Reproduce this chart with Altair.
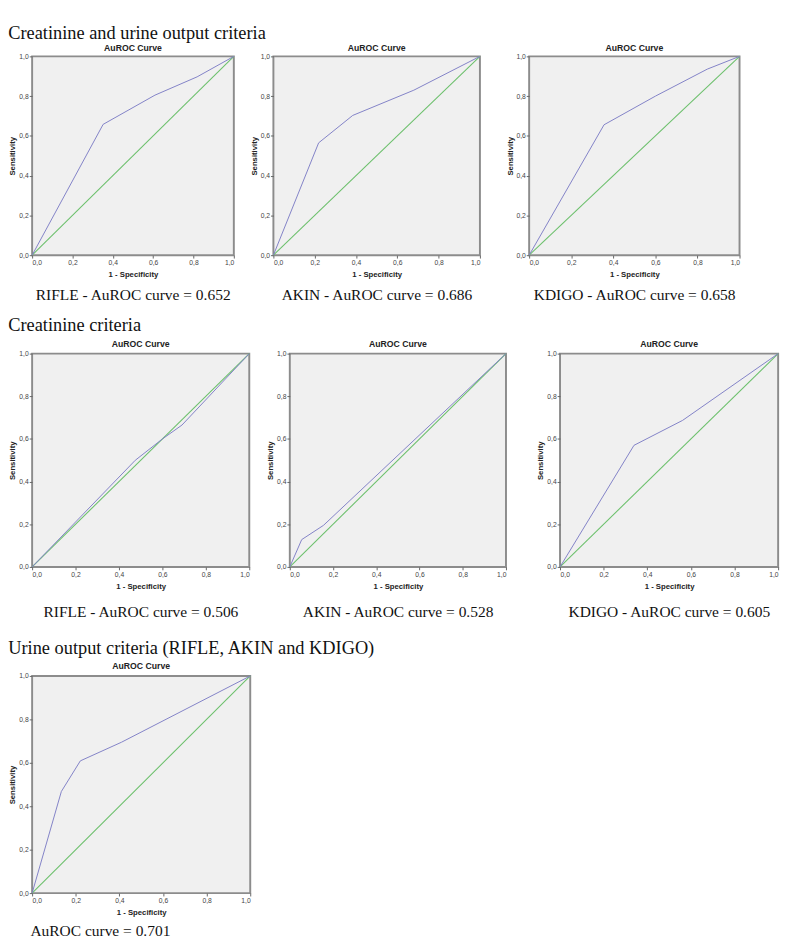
import altair as alt
import pandas as pd

# ---- data ----
headers = [
    "Creatinine and urine output criteria",
    "Creatinine criteria",
    "Urine output criteria (RIFLE, AKIN and KDIGO)",
]

captions = [
    "RIFLE - AuROC curve = 0.652",
    "AKIN - AuROC curve = 0.686",
    "KDIGO - AuROC curve = 0.658",
    "RIFLE - AuROC curve = 0.506",
    "AKIN - AuROC curve = 0.528",
    "KDIGO - AuROC curve = 0.605",
    "AuROC curve = 0.701",
]

fpr_1 = [0.0, 0.352, 0.609, 0.818, 1.0]
tpr_1 = [0.0, 0.658, 0.805, 0.897, 1.0]
fpr_2 = [0.0, 0.219, 0.384, 0.68, 1.0]
tpr_2 = [0.0, 0.565, 0.703, 0.83, 1.0]
fpr_3 = [0.0, 0.356, 0.60, 0.847, 1.0]
tpr_3 = [0.0, 0.656, 0.80, 0.936, 1.0]
fpr_4 = [0.0, 0.475, 0.60, 0.69, 1.0]
tpr_4 = [0.0, 0.50, 0.60, 0.665, 1.0]
fpr_5 = [0.0, 0.055, 0.156, 1.0]
tpr_5 = [0.0, 0.128, 0.195, 1.0]
fpr_6 = [0.0, 0.339, 0.562, 1.0]
tpr_6 = [0.0, 0.570, 0.687, 1.0]
fpr_7 = [0.0, 0.134, 0.221, 0.41, 1.0]
tpr_7 = [0.0, 0.468, 0.609, 0.695, 1.0]

diag_x = [0.0, 1.0]
diag_y = [0.0, 1.0]
ticks = [0.0, 0.2, 0.4, 0.6, 0.8, 1.0]

CURVE = "#7f80c6"
DIAG = "#6cc06c"
SANS = "Liberation Sans"
SERIF = "Liberation Serif"


def make_axis(title, title_pad):
    return alt.Axis(
        title=title, values=ticks,
        labelExpr="replace(format(datum.value, '.1f'), '.', ',')",
        labelFont=SANS, labelFontSize=7, labelColor="#444",
        tickColor="#666", tickSize=3, domain=False, grid=False,
        titleFont=SANS, titleFontSize=8, titleFontWeight="bold",
        titleColor="#222", labelPadding=1, titlePadding=title_pad,
    )


def make_panel(fpr, tpr, caption, w, h, cap_anchor="middle", cap_dx=11,
               cap_off=8, title_off=1):
    scale = alt.Scale(domain=[0, 1], nice=False, zero=False)
    curve_df = pd.DataFrame({"x": fpr, "y": tpr, "o": list(range(len(fpr)))})
    diag_df = pd.DataFrame({"x": diag_x, "y": diag_y, "o": [0, 1]})
    diag = alt.Chart(diag_df).mark_line(color=DIAG, strokeWidth=1.1).encode(
        x=alt.X("x:Q", scale=scale, axis=make_axis("1 - Specificity", 5)),
        y=alt.Y("y:Q", scale=scale, axis=make_axis("Sensitivity", 2)),
        order="o:Q",
    )
    curve = alt.Chart(curve_df).mark_line(color=CURVE, strokeWidth=1).encode(
        x=alt.X("x:Q", scale=scale),
        y=alt.Y("y:Q", scale=scale),
        order="o:Q",
    )
    panel = alt.layer(diag, curve).properties(
        width=w, height=h,
        title=alt.Title("AuROC Curve", font=SANS, fontSize=9,
                        fontWeight="bold", color="#222", offset=title_off),
    )
    return alt.vconcat(
        panel,
        title=alt.Title(caption, orient="bottom", anchor=cap_anchor, dx=cap_dx,
                        font=SERIF, fontSize=16, fontWeight="normal",
                        color="#111", offset=cap_off),
    )


def header(text, off):
    return alt.Title(text, anchor="start", font=SERIF, fontSize=19,
                     fontWeight="normal", color="#111", offset=off)


row1 = alt.hconcat(
    alt.hconcat(
        make_panel(fpr_1, tpr_1, captions[0], 209, 206, title_off=0),
        make_panel(fpr_2, tpr_2, captions[1], 214, 206, title_off=0),
        spacing=12,
    ),
    make_panel(fpr_3, tpr_3, captions[2], 218, 206, title_off=0),
    spacing=22, title=header(headers[0], 0),
)
row2 = alt.hconcat(
    alt.hconcat(
        make_panel(fpr_4, tpr_4, captions[3], 225, 221, cap_off=14),
        make_panel(fpr_5, tpr_5, captions[4], 224, 221, cap_off=14),
        spacing=13,
    ),
    make_panel(fpr_6, tpr_6, captions[5], 226, 221, cap_off=14),
    spacing=27, title=header(headers[1], 4),
)
row3 = alt.hconcat(
    make_panel(fpr_7, tpr_7, captions[6], 226, 225,
               cap_anchor="start", cap_dx=23, cap_off=6),
    title=header(headers[2], 4),
)

chart = alt.vconcat(
    alt.vconcat(row1, row2, spacing=15),
    row3, spacing=20,
).properties(
    padding={"left": 0, "top": 0, "right": 0, "bottom": 0},
    background="white",
).configure_view(
    stroke="#8c8c8c", strokeWidth=2, fill="#f0f0f0",
)

chart.save("out.html", embed_options={"renderer": "svg", "actions": False})
